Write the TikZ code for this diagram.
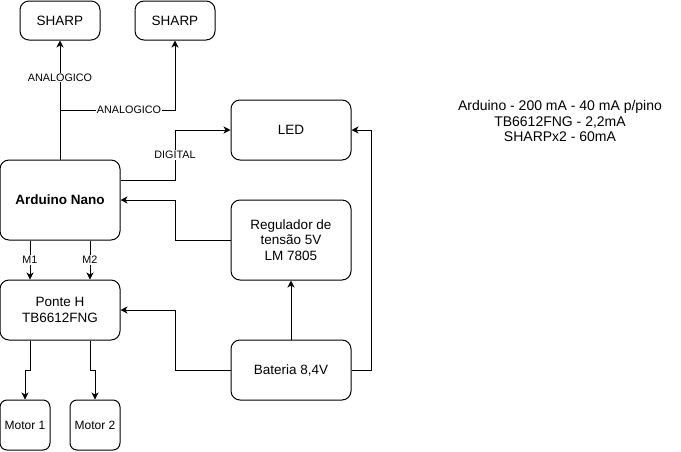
\documentclass[tikz,border=0pt]{standalone}
\usepackage{fontspec}
\setmainfont{Liberation Sans}
\usetikzlibrary{arrows.meta,positioning,calc}

\begin{document}
\begin{tikzpicture}[x=1pt, y=-1pt,
  every node/.style={font=\fontsize{13.5}{15.5}\selectfont},
  blk/.style={draw, line width=1pt, rounded corners=9pt, minimum width=120pt, minimum height=60pt, align=center, inner sep=0pt},
  wire/.style={line width=1pt, -{Stealth[length=7pt,width=7pt,inset=2pt]}},
  lbl/.style={fill=white, inner sep=1pt, font=\fontsize{10.8}{13}\selectfont}]
\useasboundingbox (0,0) rectangle (681,451);
% blocos
\node[blk, minimum width=80pt, minimum height=39pt] (sharpa) at (60,20.5) {SHARP};
\node[blk, minimum width=80pt, minimum height=39pt] (sharpb) at (175,20.5) {SHARP};
\node[blk] (led) at (291,130) {LED};
\node[blk, minimum height=80pt, font=\fontsize{13.5}{15.5}\selectfont\bfseries] (nano) at (60,200) {Arduino Nano};
\node[blk, minimum height=80pt] (reg) at (291,240) {Regulador de\\tensão 5V\\LM 7805};
\node[blk] (ponte) at (60,310) {Ponte H\\TB6612FNG};
\node[blk] (bat) at (291,370) {Bateria 8,4V};
\node[blk, rounded corners=7pt, minimum width=50pt, minimum height=50pt, font=\fontsize{12}{14}\selectfont] (mot1) at (25,425) {Motor 1};
\node[blk, rounded corners=7pt, minimum width=50pt, minimum height=50pt, font=\fontsize{12}{14}\selectfont] (mot2) at (95,425) {Motor 2};
\node[align=center, font=\fontsize{14}{15.5}\selectfont] (consumo) at (560,121) {Arduino - 200 mA - 40 mA p/pino\\TB6612FNG - 2,2mA\\SHARPx2 - 60mA};
\coordinate (busx) at (175,0);
\coordinate (rbus) at (371,0);
% ligacoes
\draw[wire] (nano.north) -- (sharpa.south) node[lbl, pos=0.69] {ANALOGICO};
\draw[wire] (nano.north |- 0,110) -| (sharpb.south) node[lbl, pos=0.3] {ANALOGICO};
\draw[wire] ([yshift=20pt]nano.east) -| (busx |- led.west) node[lbl, pos=0.75] {DIGITAL} -- (led.west);
\draw[wire] (reg.west) -| (busx |- nano.east) -- (nano.east);
\draw[wire] (bat.west) -| (busx |- ponte.east) -- (ponte.east);
\draw[wire] (bat.north) -- (reg.south);
\draw[wire] (bat.east) -| (rbus |- led.east) -- (led.east);
\foreach \dx/\m in {-30/M1, 30/M2}
  \draw[wire] ([xshift=\dx pt]nano.south) -- ([xshift=\dx pt]ponte.north) node[lbl, midway] {\m};
\draw[wire] ([xshift=-30pt]ponte.south) -- ++(0,30) -| (mot1.north);
\draw[wire] ([xshift=30pt]ponte.south) -- ++(0,30) -| (mot2.north);
\end{tikzpicture}
\end{document}
